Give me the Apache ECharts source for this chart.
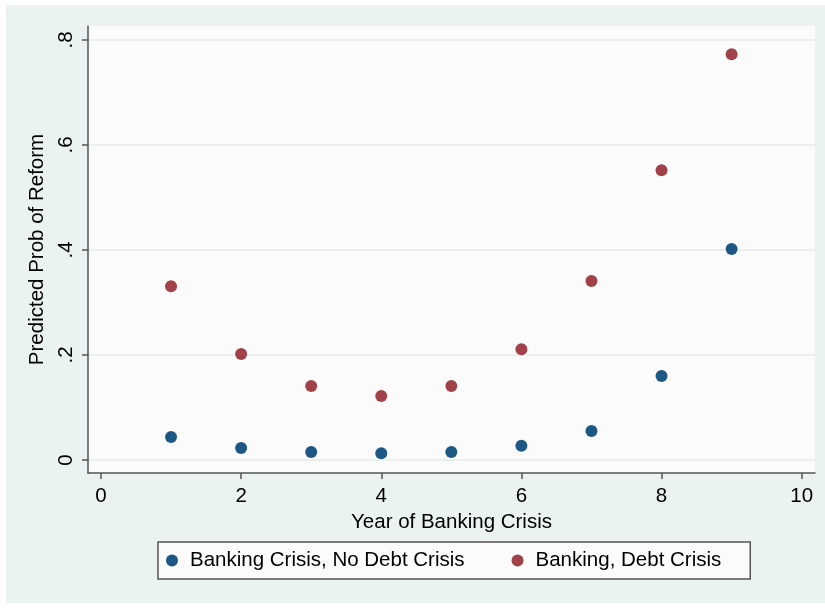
<!DOCTYPE html>
<html>
<head>
<meta charset="utf-8">
<script src="https://cdn.jsdelivr.net/npm/echarts@6/dist/echarts.min.js"></script>
<style>
  html, body { margin: 0; padding: 0; background: #ffffff; }
  #chart { width: 825px; height: 608px; }
</style>
</head>
<body>
<div id="chart"></div>
<script>
// years of the banking crisis
var years = [1, 2, 3, 4, 5, 6, 7, 8, 9];
// predicted probability of reform
var noDebt = [0.044, 0.023, 0.015, 0.013, 0.015, 0.027, 0.055, 0.160, 0.402];
var withDebt = [0.331, 0.202, 0.141, 0.122, 0.141, 0.211, 0.341, 0.552, 0.773];
var xTicks = [0, 2, 4, 6, 8, 10];
var yTicks = [0, 0.2, 0.4, 0.6, 0.8];
var seriesNames = ['Banking Crisis, No Debt Crisis', 'Banking, Debt Crisis'];

function pairs(vals) {
    return years.map(function (x, i) { return [x, vals[i]]; });
}

var chart = echarts.init(document.getElementById('chart'), null, { renderer: 'canvas' });
var font = 'Liberation Sans, Arial, Helvetica, sans-serif';
var axisColor = '#555555';
var fs = 20.5;

var option = {
    backgroundColor: '#ffffff',
    animation: false,
    textStyle: { fontFamily: font },
    color: ['#1d5784', '#a1424a'],
    graphic: [{
        type: 'rect',
        z: -10,
        shape: { x: 6, y: 5, width: 819, height: 598 },
        style: { fill: '#eaf2f2' }
    }],
    grid: {
        left: 88, right: 10, top: 26, bottom: 135,
        show: true,
        backgroundColor: '#fbfbfb',
        borderWidth: 0
    },
    xAxis: {
        type: 'value',
        min: -0.185, max: 10.19,
        name: 'Year of Banking Crisis',
        nameLocation: 'middle',
        nameGap: 35,
        nameTextStyle: { fontSize: fs, color: '#000', fontFamily: font },
        axisLine: { show: true, onZero: false, lineStyle: { color: axisColor, width: 1.5 } },
        axisTick: { show: true, length: 6, customValues: xTicks, lineStyle: { color: axisColor, width: 1.5 } },
        axisLabel: { customValues: xTicks, fontSize: fs, color: '#000', margin: 13, fontFamily: font },
        splitLine: { show: false }
    },
    yAxis: {
        type: 'value',
        min: -0.0248, max: 0.8267,
        name: 'Predicted Prob of Reform',
        nameLocation: 'middle',
        nameRotate: 90,
        nameGap: 35,
        nameTextStyle: { fontSize: fs, color: '#000', fontFamily: font },
        axisLine: { show: true, onZero: false, lineStyle: { color: axisColor, width: 1.5 } },
        axisTick: { show: true, length: 6, customValues: yTicks, lineStyle: { color: axisColor, width: 1.5 } },
        axisLabel: {
            customValues: yTicks,
            rotate: 90,
            fontSize: fs, color: '#000', margin: 11, fontFamily: font,
            formatter: function (v) { return v === 0 ? '0' : String(v).replace(/^0/, ''); }
        },
        splitLine: { show: true, customValues: yTicks, lineStyle: { color: '#e4eded', width: 1.5 } }
    },
    legend: {
        left: 158, top: 542,
        orient: 'horizontal',
        data: seriesNames,
        icon: 'circle',
        itemWidth: 12, itemHeight: 12,
        itemGap: 47,
        padding: [8, 29, 8, 8],
        backgroundColor: '#fbfbfb',
        borderColor: '#555555',
        borderWidth: 1.5,
        textStyle: { fontSize: fs, color: '#000', fontFamily: font, padding: [0, 0, 0, 7] }
    },
    series: [{
        name: seriesNames[0],
        type: 'scatter',
        symbol: 'circle',
        symbolSize: 12,
        itemStyle: { opacity: 1 },
        data: pairs(noDebt)
    }, {
        name: seriesNames[1],
        type: 'scatter',
        symbol: 'circle',
        symbolSize: 12,
        itemStyle: { opacity: 1 },
        data: pairs(withDebt)
    }]
};

chart.setOption(option);
</script>
</body>
</html>
